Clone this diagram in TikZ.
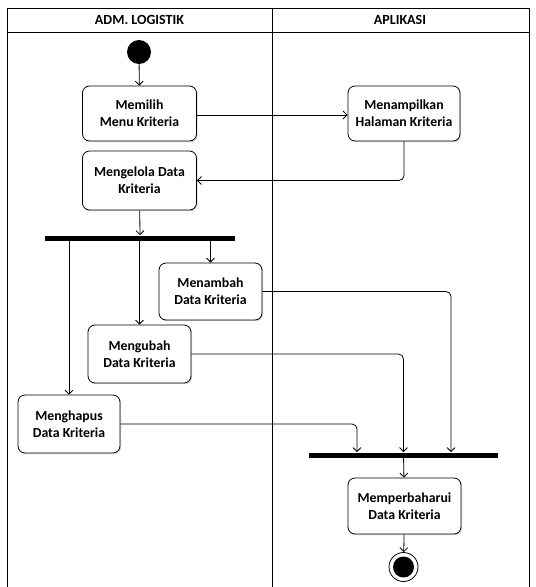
\documentclass[tikz,border=0pt]{standalone}
\usepackage{fontspec}
\setmainfont{Carlito}
\usetikzlibrary{arrows.meta,calc,positioning,shadows}
\tikzset{
  every picture/.style={line width=0.8pt, line join=round,
    >={Straight Barb[length=4pt,width=8pt]}},
  % Aktivitas
  aktivitas/.style={draw, rounded corners=7pt, fill=white, align=center,
    inner sep=2pt, font=\bfseries\fontsize{13.8}{17}\selectfont,
    drop shadow={shadow xshift=1.2pt, shadow yshift=-1.2pt, opacity=0.3}},
  judul/.style={font=\bfseries\fontsize{14}{16}\selectfont},
  bar/.style={fill=black, inner sep=0pt, minimum height=5pt},
  mulai/.style={circle, fill=black, inner sep=0pt, minimum size=24pt},
  selesai/.style={circle, draw, fill=white, inner sep=0pt, minimum size=29pt,
    path picture={\fill[black] (path picture bounding box.center) circle (10.5pt);}},
  alur/.style={->, rounded corners=5pt},
}

\begin{document}
\begin{tikzpicture}[x=1pt,y=-1pt]
  \useasboundingbox (0,0) rectangle (536,587);
  % Swimlane
  \draw (7,8) rectangle (529,588);
  \draw (7,32) -- (529,32);
  \draw (272,8) -- (272,588);
  \node[judul] (lane1) at (139.5,20) {ADM. LOGISTIK};
  \node[judul] (lane2) at (400,20) {APLIKASI};
  % Node
  \node[mulai] (start) at (139,52) {};
  \node[aktivitas, minimum width=114pt, minimum height=55pt] (memilih) at (139.5,113.5) {Memilih\\Menu Kriteria};
  \node[aktivitas, minimum width=112pt, minimum height=55pt] (tampil) at (404,113.5) {Menampilkan\\Halaman Kriteria};
  \node[aktivitas, minimum width=114pt, minimum height=59pt] (kelola) at (139.5,180.5) {Mengelola Data\\Kriteria};
  \node[bar, minimum width=190pt] (fork) at (140,238) {};
  \node[aktivitas, minimum width=103pt, minimum height=57pt] (tambah) at (210.5,291.5) {Menambah\\Data Kriteria};
  \node[aktivitas, minimum width=103pt, minimum height=58pt] (ubah) at (139.5,354) {Mengubah\\Data Kriteria};
  \node[aktivitas, minimum width=102pt, minimum height=58pt] (hapus) at (69,424) {Menghapus\\Data Kriteria};
  \node[bar, minimum width=189pt] (join) at (403.5,455) {};
  \node[aktivitas, minimum width=113pt, minimum height=56pt] (perbarui) at (404.5,506) {Memperbaharui\\Data Kriteria};
  \node[selesai] (end) at (403.5,567) {};
  % Alur
  \draw[alur] (start) -- (memilih);
  \draw[alur] (memilih.east |- 0,115) -- (tampil.west |- 0,115);
  \draw[alur] (tampil.south) |- (kelola.east);
  \draw[alur] (kelola) -- (fork);
  \draw[alur] (fork.south -| hapus.north) -- (hapus.north);
  \draw[alur] (fork.south -| ubah.north) -- (ubah.north);
  \draw[alur] (fork.south -| tambah.north) -- (tambah.north);
  \draw[alur] (tambah.east) -| ([xshift=47.5pt]join.north);
  \draw[alur] (ubah.east) -| (join.north);
  \draw[alur] (hapus.east) -| ([xshift=-46.5pt]join.north);
  \draw[alur] (join) -- (perbarui);
  \draw[alur] (perbarui) -- (end);
\end{tikzpicture}
\end{document}
